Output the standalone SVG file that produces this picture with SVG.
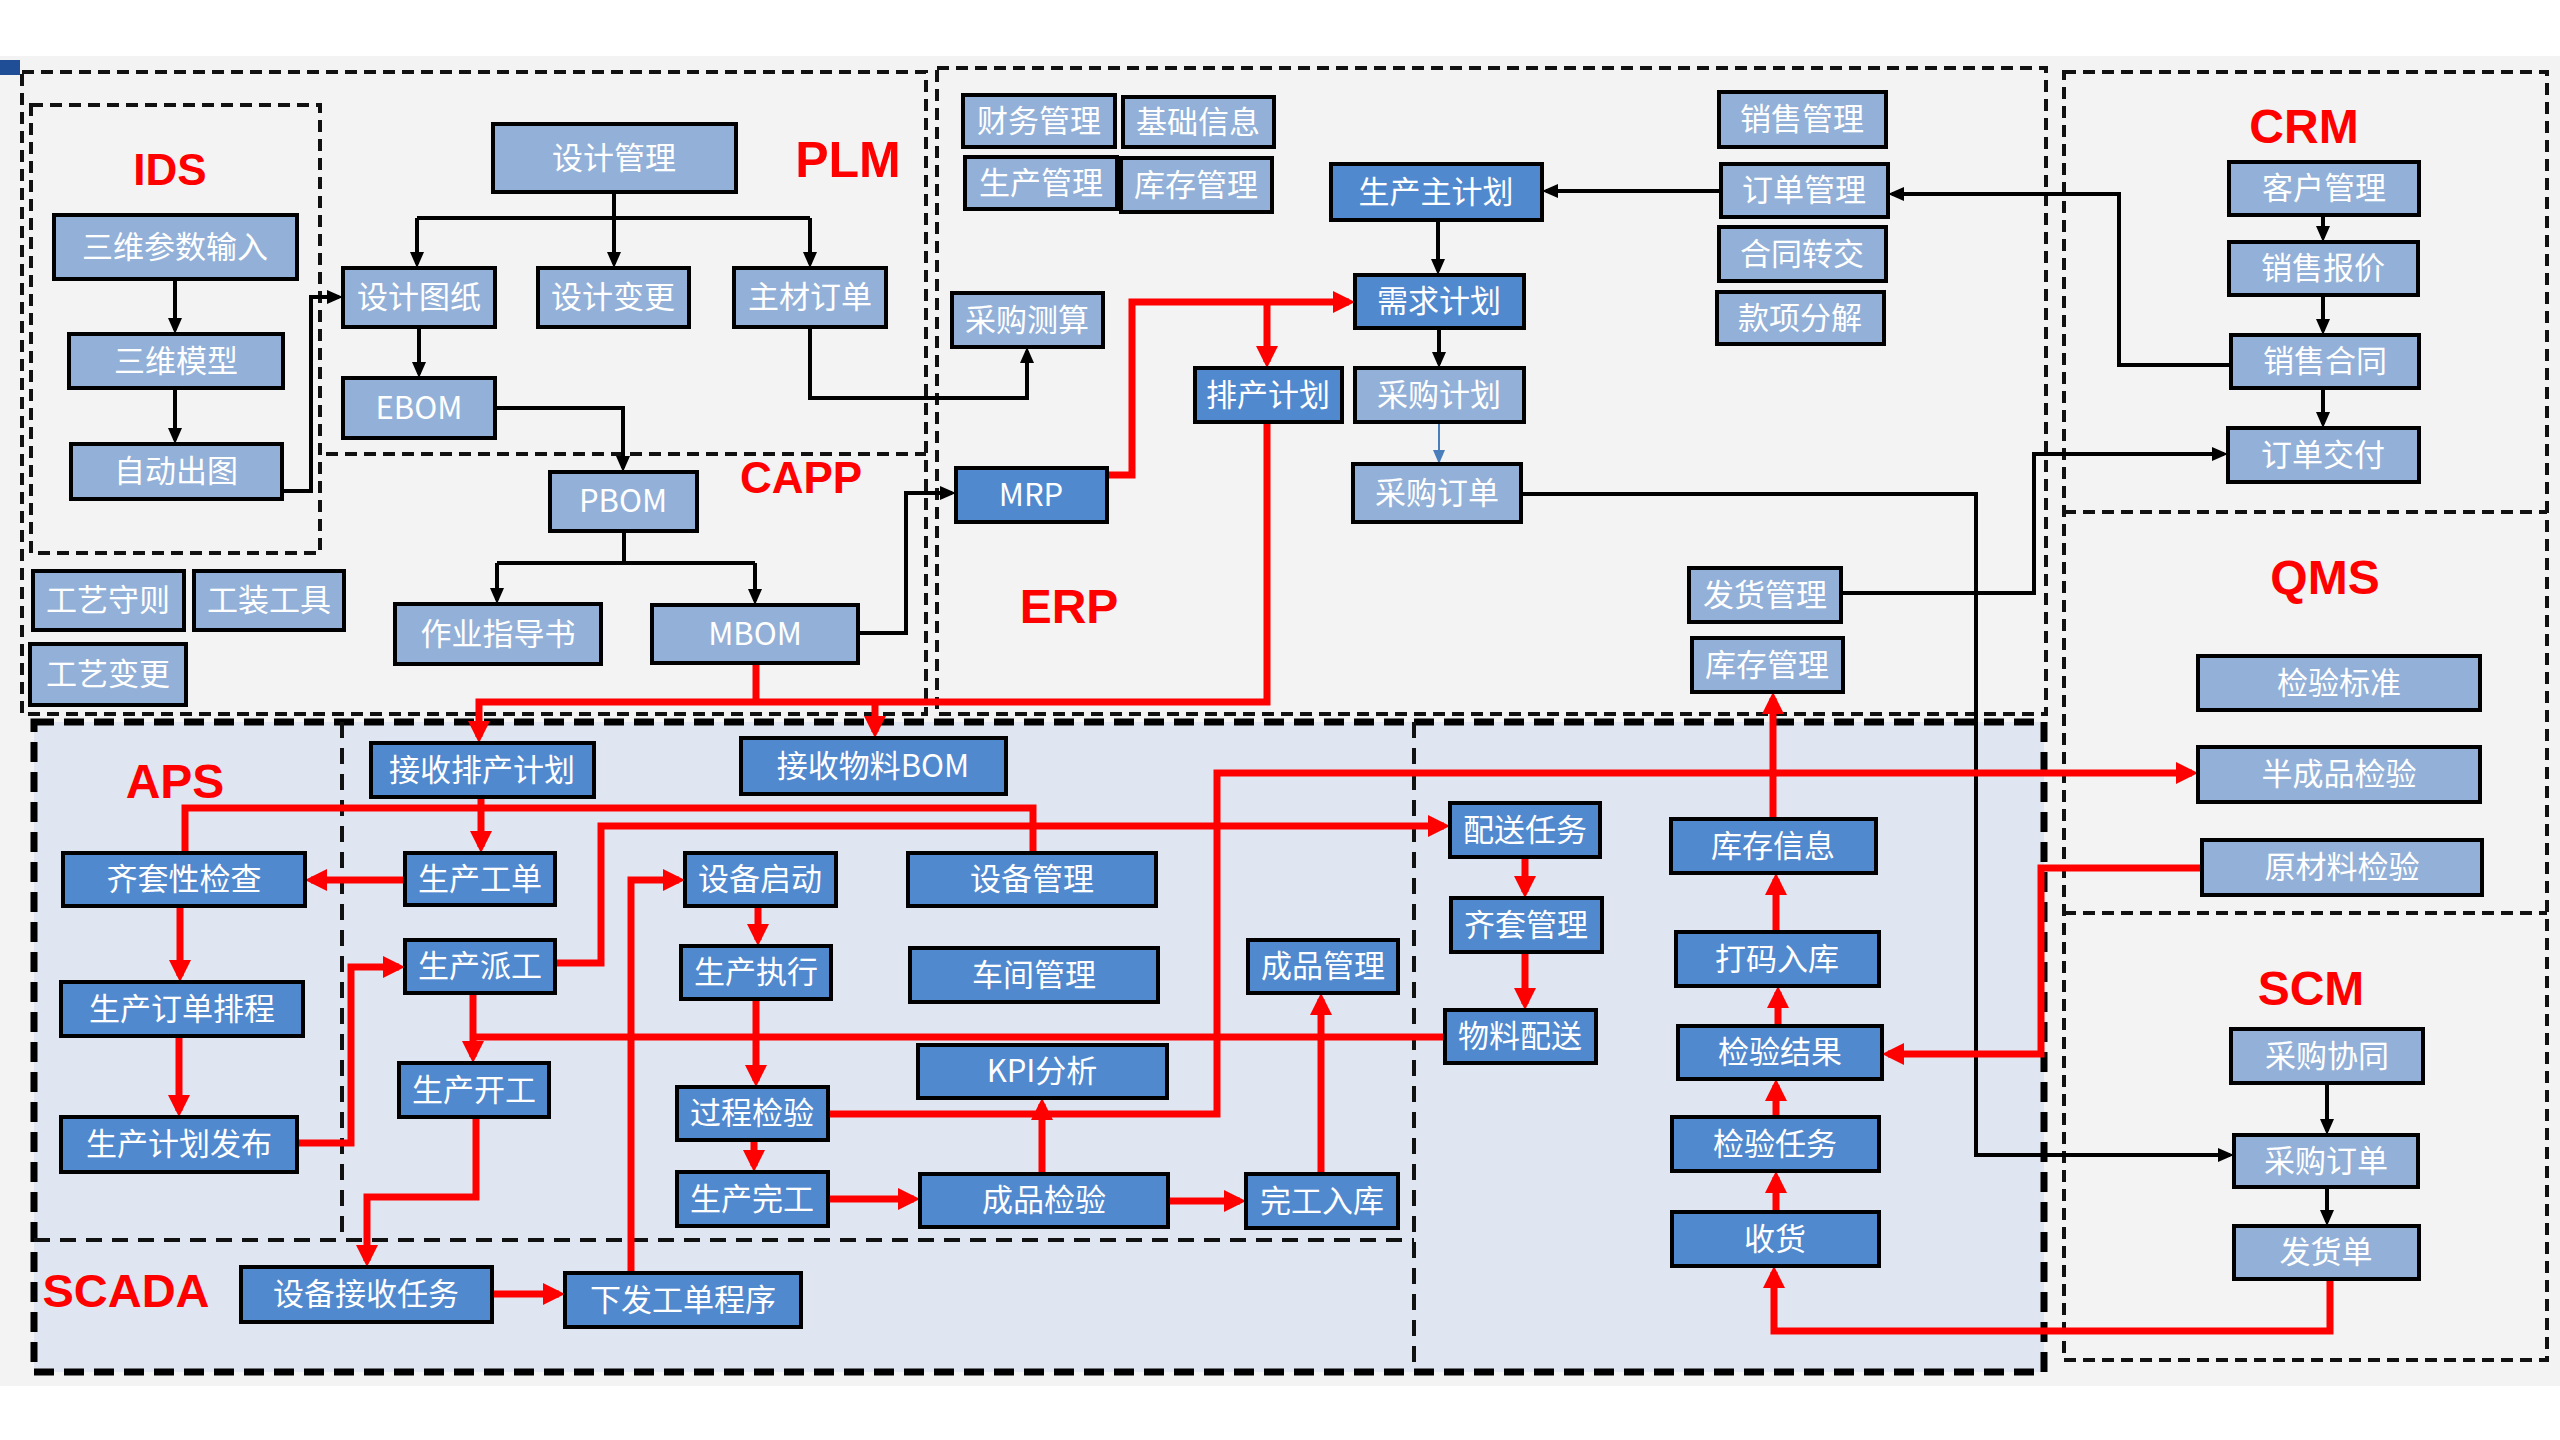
<svg xmlns="http://www.w3.org/2000/svg" width="2560" height="1440" viewBox="0 0 2560 1440">
<style>
.lt{fill:#93b1d8;stroke:#000;stroke-width:4}
.dk{fill:#5189cf;stroke:#000;stroke-width:4}
.t{fill:#fff;font-family:"Noto Sans CJK SC","Liberation Sans",sans-serif;font-size:31px;text-anchor:middle}
.lab{fill:#ff0000;font-family:"Liberation Sans",Arial,sans-serif;font-weight:bold;text-anchor:middle}
.box{fill:none;stroke:#111;stroke-width:4;stroke-dasharray:12 7}
.mes{fill:#dfe6f1;stroke:#000;stroke-width:7;stroke-dasharray:20 10}
.inner{fill:none;stroke:#111;stroke-width:4;stroke-dasharray:16 10}
.bk{fill:none;stroke:#000;stroke-width:4;marker-end:url(#ab)}
.bkn{fill:none;stroke:#000;stroke-width:4}
.rd{fill:none;stroke:#ff0000;stroke-width:7;marker-end:url(#ar)}
.rdn{fill:none;stroke:#ff0000;stroke-width:7}
</style>
<defs>
<marker id="ab" viewBox="0 0 16 14" refX="12" refY="7" markerWidth="16" markerHeight="14" markerUnits="userSpaceOnUse" orient="auto"><path d="M0,0 L16,7 L0,14 z" fill="#000"/></marker>
<marker id="abl" viewBox="0 0 14 12" refX="12" refY="6" markerWidth="14" markerHeight="12" markerUnits="userSpaceOnUse" orient="auto"><path d="M0,0 L14,6 L0,12 z" fill="#4a7ebb"/></marker>
<marker id="ar" viewBox="0 0 22 22" refX="16" refY="11" markerWidth="22" markerHeight="22" markerUnits="userSpaceOnUse" orient="auto"><path d="M0,0 L22,11 L0,22 z" fill="#ff0000"/></marker>
</defs>
<rect x="0" y="0" width="2560" height="1440" fill="#ffffff"/>
<rect x="0" y="56" width="2560" height="1330" fill="#f3f3f3"/>
<rect x="0" y="60" width="20" height="15" fill="#1f4e96"/>

<g id="regions">
<rect class="mes" x="34" y="722" width="2010" height="650"/>
<rect class="box" x="22" y="72" width="904" height="642"/>
<rect class="box" x="31" y="105" width="289" height="448"/>
<path class="box" d="M326,454 H926"/>
<rect class="box" x="937" y="68" width="1109" height="646"/>
<rect class="box" x="2064" y="72" width="483" height="1288"/>
<path class="box" d="M2064,512 H2547 M2064,913 H2547"/>
<path class="inner" d="M342,722 V1240 M1414,722 V1372 M34,1240 H1414"/>
</g>

<g id="labels">
<text class="lab" x="170" y="185" font-size="44">IDS</text>
<text class="lab" x="848" y="177" font-size="50">PLM</text>
<text class="lab" x="801" y="493" font-size="44">CAPP</text>
<text class="lab" x="1069" y="623" font-size="48">ERP</text>
<text class="lab" x="2304" y="143" font-size="48">CRM</text>
<text class="lab" x="2325" y="594" font-size="48">QMS</text>
<text class="lab" x="2311" y="1005" font-size="48">SCM</text>
<text class="lab" x="175" y="798" font-size="48">APS</text>
<text class="lab" x="126" y="1307" font-size="47">SCADA</text>
</g>

<g id="connectors">
<path class="bk" d="M175,279 V330"/>
<path class="bk" d="M175,388 V440"/>
<path class="bk" d="M282,491 H311 V297 H339"/>
<path class="bk" d="M614,192 V264"/>
<path class="bkn" d="M417,218 H810"/>
<path class="bk" d="M417,218 V264"/>
<path class="bk" d="M810,218 V264"/>
<path class="bk" d="M419,327 V374"/>
<path class="bk" d="M495,408 H623 V468"/>
<path class="bk" d="M810,327 V398 H1027 V351"/>
<path class="bkn" d="M624,531 V563 M497,563 H755"/>
<path class="bk" d="M497,563 V600"/>
<path class="bk" d="M755,563 V601"/>
<path class="bk" d="M858,633 H906 V493 H952"/>
<path class="bk" d="M1721,191 H1546"/>
<path class="bk" d="M1438,220 V271"/>
<path class="bk" d="M1439,328 V364"/>
<path d="M1439,422 V462" fill="none" stroke="#4a7ebb" stroke-width="2" marker-end="url(#abl)"/>
<path class="bk" d="M1521,494 H1976 V1155 H2230" stroke-width="3"/>
<path class="bk" d="M2323,215 V238"/>
<path class="bk" d="M2323,295 V331"/>
<path class="bk" d="M2323,388 V424"/>
<path class="bk" d="M2231,365 H2119 V194 H1892"/>
<path class="bk" d="M1841,593 H2034 V454 H2224"/>
<path class="bk" d="M2327,1083 V1131"/>
<path class="bk" d="M2327,1187 V1222"/>

<path class="rd" d="M1107,475 H1132 V302 H1349"/>
<path class="rd" d="M1267,302 V362"/>
<path class="rd" d="M1267,422 V702 H479 V737"/>
<path class="rdn" d="M756,663 V702"/>
<path class="rd" d="M875,702 V732"/>
<path class="rd" d="M481,797 V847"/>
<path class="rd" d="M405,880 H311"/>
<path class="rdn" d="M185,853 V808 H1033 V853"/>
<path class="rd" d="M180,906 V976"/>
<path class="rd" d="M179,1036 V1111"/>
<path class="rd" d="M297,1143 H351 V967 H399"/>
<path class="rd" d="M555,963 H601 V826 H1444"/>
<path class="rd" d="M473,993 V1057"/>
<path class="rdn" d="M1445,1037 H473"/>
<path class="rd" d="M476,1117 V1197 H367 V1261"/>
<path class="rd" d="M492,1294 H559"/>
<path class="rd" d="M631,1273 V880 H679"/>
<path class="rd" d="M758,906 V940"/>
<path class="rd" d="M756,999 V1081"/>
<path class="rd" d="M754,1140 V1166"/>
<path class="rd" d="M828,1114 H1217 V773 H2192"/>
<path class="rd" d="M828,1199 H914"/>
<path class="rd" d="M1042,1174 V1104"/>
<path class="rd" d="M1168,1201 H1240"/>
<path class="rd" d="M1321,1174 V999"/>
<path class="rd" d="M1525,857 V892"/>
<path class="rd" d="M1525,952 V1004"/>
<path class="rd" d="M1773,819 V698"/>
<path class="rd" d="M1776,932 V879"/>
<path class="rd" d="M1778,1026 V992"/>
<path class="rd" d="M1776,1117 V1085"/>
<path class="rd" d="M1776,1212 V1177"/>
<path class="rd" d="M2330,1279 V1331 H1774 V1272"/>
<path class="rd" d="M2202,868 H2041 V1054 H1888"/>
</g>

<g id="n1"><rect class="lt" x="54" y="215" width="243" height="64"/><text class="t" x="175" y="258">三维参数输入</text></g>
<g id="n2"><rect class="lt" x="69" y="334" width="214" height="54"/><text class="t" x="176" y="372">三维模型</text></g>
<g id="n3"><rect class="lt" x="71" y="444" width="211" height="55"/><text class="t" x="176" y="482">自动出图</text></g>
<g id="n4"><rect class="lt" x="493" y="124" width="243" height="68"/><text class="t" x="614" y="169">设计管理</text></g>
<g id="n5"><rect class="lt" x="343" y="268" width="152" height="59"/><text class="t" x="419" y="308">设计图纸</text></g>
<g id="n6"><rect class="lt" x="538" y="268" width="151" height="59"/><text class="t" x="613" y="308">设计变更</text></g>
<g id="n7"><rect class="lt" x="734" y="268" width="152" height="59"/><text class="t" x="810" y="308">主材订单</text></g>
<g id="n8"><rect class="lt" x="343" y="378" width="152" height="60"/><text class="t" x="419" y="419">EBOM</text></g>
<g id="n9"><rect class="lt" x="550" y="472" width="147" height="59"/><text class="t" x="623" y="512">PBOM</text></g>
<g id="n10"><rect class="lt" x="395" y="604" width="206" height="60"/><text class="t" x="498" y="645">作业指导书</text></g>
<g id="n11"><rect class="lt" x="652" y="605" width="206" height="58"/><text class="t" x="755" y="645">MBOM</text></g>
<g id="n12"><rect class="lt" x="33" y="571" width="151" height="59"/><text class="t" x="108" y="611">工艺守则</text></g>
<g id="n13"><rect class="lt" x="194" y="571" width="150" height="59"/><text class="t" x="269" y="611">工装工具</text></g>
<g id="n14"><rect class="lt" x="30" y="644" width="156" height="61"/><text class="t" x="108" y="685">工艺变更</text></g>

<g id="n15"><rect class="lt" x="963" y="95" width="152" height="52"/><text class="t" x="1039" y="132">财务管理</text></g>
<g id="n16"><rect class="lt" x="1123" y="97" width="151" height="50"/><text class="t" x="1198" y="133">基础信息</text></g>
<g id="n17"><rect class="lt" x="965" y="157" width="152" height="52"/><text class="t" x="1041" y="194">生产管理</text></g>
<g id="n18"><rect class="lt" x="1121" y="158" width="151" height="54"/><text class="t" x="1196" y="196">库存管理</text></g>
<g id="n19"><rect class="lt" x="952" y="293" width="151" height="54"/><text class="t" x="1027" y="331">采购测算</text></g>
<g id="n20"><rect class="dk" x="956" y="468" width="151" height="54"/><text class="t" x="1031" y="506">MRP</text></g>
<g id="n21"><rect class="dk" x="1331" y="164" width="211" height="56"/><text class="t" x="1436" y="203">生产主计划</text></g>
<g id="n22"><rect class="dk" x="1355" y="275" width="169" height="53"/><text class="t" x="1439" y="312">需求计划</text></g>
<g id="n23"><rect class="dk" x="1195" y="368" width="147" height="54"/><text class="t" x="1268" y="406">排产计划</text></g>
<g id="n24"><rect class="lt" x="1355" y="368" width="169" height="54"/><text class="t" x="1439" y="406">采购计划</text></g>
<g id="n25"><rect class="lt" x="1353" y="464" width="168" height="58"/><text class="t" x="1437" y="504">采购订单</text></g>
<g id="n26"><rect class="lt" x="1719" y="92" width="167" height="55"/><text class="t" x="1802" y="130">销售管理</text></g>
<g id="n27"><rect class="lt" x="1721" y="164" width="167" height="53"/><text class="t" x="1804" y="201">订单管理</text></g>
<g id="n28"><rect class="lt" x="1719" y="227" width="167" height="54"/><text class="t" x="1802" y="265">合同转交</text></g>
<g id="n29"><rect class="lt" x="1717" y="292" width="167" height="52"/><text class="t" x="1800" y="329">款项分解</text></g>
<g id="n30"><rect class="lt" x="1689" y="568" width="152" height="54"/><text class="t" x="1765" y="606">发货管理</text></g>
<g id="n31"><rect class="lt" x="1692" y="638" width="151" height="54"/><text class="t" x="1767" y="676">库存管理</text></g>

<g id="n32"><rect class="lt" x="2229" y="162" width="190" height="53"/><text class="t" x="2324" y="199">客户管理</text></g>
<g id="n33"><rect class="lt" x="2229" y="242" width="189" height="53"/><text class="t" x="2323" y="279">销售报价</text></g>
<g id="n34"><rect class="lt" x="2231" y="335" width="188" height="53"/><text class="t" x="2325" y="372">销售合同</text></g>
<g id="n35"><rect class="lt" x="2228" y="428" width="191" height="54"/><text class="t" x="2323" y="466">订单交付</text></g>
<g id="n36"><rect class="lt" x="2198" y="656" width="282" height="54"/><text class="t" x="2339" y="694">检验标准</text></g>
<g id="n37"><rect class="lt" x="2198" y="747" width="282" height="55"/><text class="t" x="2339" y="785">半成品检验</text></g>
<g id="n38"><rect class="lt" x="2202" y="840" width="280" height="55"/><text class="t" x="2342" y="878">原材料检验</text></g>
<g id="n39"><rect class="lt" x="2231" y="1029" width="192" height="54"/><text class="t" x="2327" y="1067">采购协同</text></g>
<g id="n40"><rect class="lt" x="2234" y="1135" width="184" height="52"/><text class="t" x="2326" y="1172">采购订单</text></g>
<g id="n41"><rect class="lt" x="2234" y="1226" width="185" height="53"/><text class="t" x="2326" y="1263">发货单</text></g>

<g id="n42"><rect class="dk" x="371" y="743" width="223" height="54"/><text class="t" x="482" y="781">接收排产计划</text></g>
<g id="n43"><rect class="dk" x="741" y="738" width="265" height="56"/><text class="t" x="873" y="777">接收物料BOM</text></g>
<g id="n44"><rect class="dk" x="63" y="853" width="242" height="53"/><text class="t" x="184" y="890">齐套性检查</text></g>
<g id="n45"><rect class="dk" x="405" y="853" width="150" height="52"/><text class="t" x="480" y="890">生产工单</text></g>
<g id="n46"><rect class="dk" x="685" y="853" width="151" height="53"/><text class="t" x="760" y="890">设备启动</text></g>
<g id="n47"><rect class="dk" x="908" y="853" width="248" height="53"/><text class="t" x="1032" y="890">设备管理</text></g>
<g id="n48"><rect class="dk" x="405" y="940" width="150" height="53"/><text class="t" x="480" y="977">生产派工</text></g>
<g id="n49"><rect class="dk" x="681" y="946" width="150" height="53"/><text class="t" x="756" y="983">生产执行</text></g>
<g id="n50"><rect class="dk" x="910" y="948" width="248" height="54"/><text class="t" x="1034" y="986">车间管理</text></g>
<g id="n51"><rect class="dk" x="1248" y="940" width="150" height="53"/><text class="t" x="1323" y="977">成品管理</text></g>
<g id="n52"><rect class="dk" x="61" y="982" width="242" height="54"/><text class="t" x="182" y="1020">生产订单排程</text></g>
<g id="n53"><rect class="dk" x="399" y="1063" width="150" height="54"/><text class="t" x="474" y="1101">生产开工</text></g>
<g id="n54"><rect class="dk" x="918" y="1045" width="249" height="53"/><text class="t" x="1042" y="1082">KPI分析</text></g>
<g id="n55"><rect class="dk" x="677" y="1087" width="151" height="53"/><text class="t" x="752" y="1124">过程检验</text></g>
<g id="n56"><rect class="dk" x="61" y="1117" width="236" height="55"/><text class="t" x="179" y="1155">生产计划发布</text></g>
<g id="n57"><rect class="dk" x="677" y="1172" width="151" height="54"/><text class="t" x="752" y="1210">生产完工</text></g>
<g id="n58"><rect class="dk" x="920" y="1174" width="248" height="53"/><text class="t" x="1044" y="1211">成品检验</text></g>
<g id="n59"><rect class="dk" x="1246" y="1174" width="152" height="54"/><text class="t" x="1322" y="1212">完工入库</text></g>
<g id="n60"><rect class="dk" x="241" y="1267" width="251" height="55"/><text class="t" x="366" y="1305">设备接收任务</text></g>
<g id="n61"><rect class="dk" x="565" y="1273" width="236" height="54"/><text class="t" x="683" y="1311">下发工单程序</text></g>
<g id="n62"><rect class="dk" x="1450" y="803" width="150" height="54"/><text class="t" x="1525" y="841">配送任务</text></g>
<g id="n63"><rect class="dk" x="1451" y="898" width="151" height="54"/><text class="t" x="1526" y="936">齐套管理</text></g>
<g id="n64"><rect class="dk" x="1445" y="1010" width="151" height="53"/><text class="t" x="1520" y="1047">物料配送</text></g>
<g id="n65"><rect class="dk" x="1671" y="819" width="205" height="54"/><text class="t" x="1773" y="857">库存信息</text></g>
<g id="n66"><rect class="dk" x="1676" y="932" width="203" height="54"/><text class="t" x="1777" y="970">打码入库</text></g>
<g id="n67"><rect class="dk" x="1678" y="1026" width="204" height="53"/><text class="t" x="1780" y="1063">检验结果</text></g>
<g id="n68"><rect class="dk" x="1672" y="1117" width="207" height="54"/><text class="t" x="1775" y="1155">检验任务</text></g>
<g id="n69"><rect class="dk" x="1672" y="1212" width="207" height="54"/><text class="t" x="1775" y="1250">收货</text></g>
</svg>
